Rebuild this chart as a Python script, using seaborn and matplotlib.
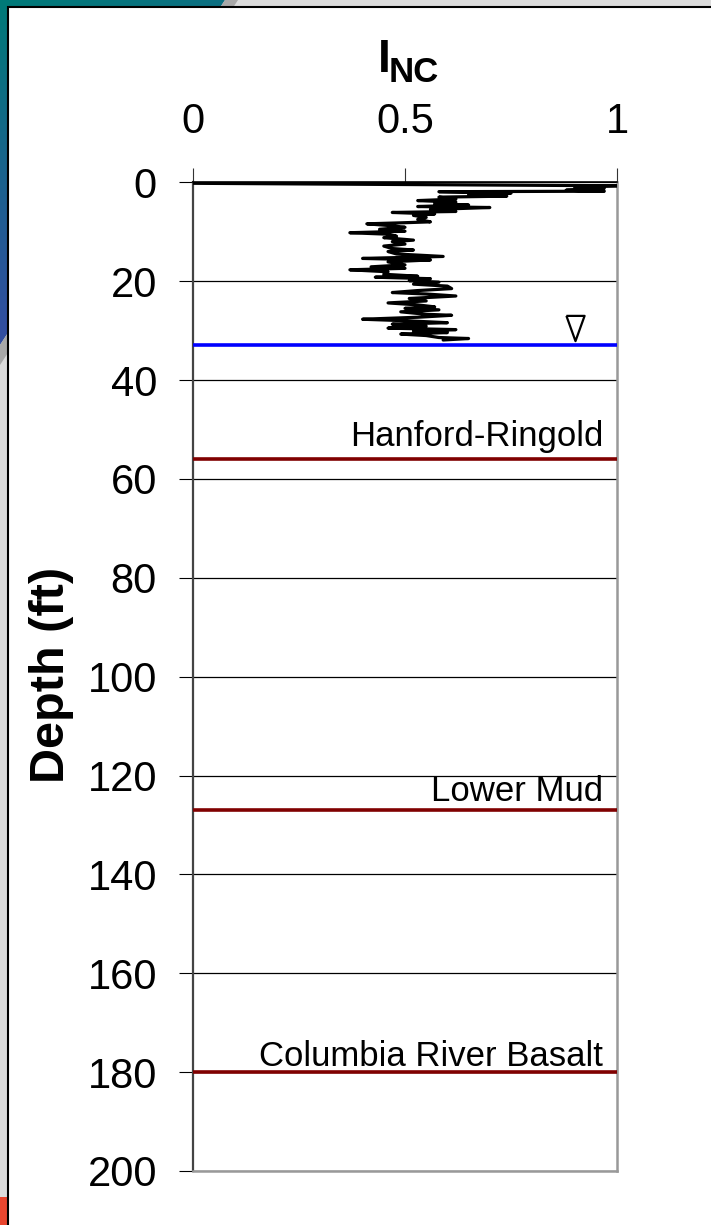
import numpy as np
import pandas as pd
import matplotlib
matplotlib.use("Agg")
import matplotlib.pyplot as plt
from matplotlib.patches import Polygon, Rectangle
import seaborn as sns

# ---- data -------------------------------------------------------------
# Normalised index I_NC logged against depth (ft)
inc_value = [0.00, 1.00, 0.90, 0.97, 0.88, 0.97, 0.58, 0.75, 0.65, 0.74,
             0.58, 0.62, 0.53, 0.62, 0.57, 0.65, 0.53, 0.70, 0.56, 0.62,
             0.47, 0.57, 0.52, 0.55, 0.53, 0.56, 0.49, 0.41, 0.47, 0.50,
             0.44, 0.50, 0.37, 0.46, 0.48, 0.45, 0.52, 0.47, 0.50, 0.45,
             0.47, 0.52, 0.46, 0.48, 0.59, 0.40, 0.56, 0.46, 0.50, 0.42,
             0.50, 0.37, 0.46, 0.45, 0.53, 0.43, 0.56, 0.51, 0.58, 0.52,
             0.60, 0.61, 0.53, 0.47, 0.55, 0.62, 0.51, 0.55, 0.46, 0.53,
             0.57, 0.50, 0.58, 0.49, 0.55, 0.61, 0.53, 0.40, 0.50, 0.60,
             0.47, 0.55, 0.46, 0.62, 0.52, 0.60, 0.49, 0.55, 0.58, 0.65,
             0.59]
inc_depth = [0.2, 0.7, 0.9, 1.2, 1.6, 1.8, 1.9, 2.2, 2.5, 2.8,
             3.0, 3.4, 3.7, 4.0, 4.3, 4.6, 4.9, 5.1, 5.5, 5.9,
             6.1, 6.4, 6.7, 7.1, 7.5, 8.0, 8.2, 8.4, 8.8, 9.1,
             9.5, 9.9, 10.2, 10.5, 10.9, 11.2, 11.7, 12.0, 12.5, 12.9,
             13.4, 13.7, 14.0, 14.5, 15.0, 15.4, 15.7, 16.1, 16.7, 17.1,
             17.4, 17.7, 18.1, 18.6, 19.0, 19.2, 19.5, 19.9, 20.2, 20.6,
             21.0, 21.5, 21.9, 22.3, 22.6, 23.0, 23.5, 24.0, 24.4, 24.8,
             25.2, 25.5, 25.8, 26.2, 26.7, 26.9, 27.3, 27.7, 28.0, 28.4,
             28.7, 29.1, 29.5, 29.8, 30.1, 30.4, 30.7, 31.0, 31.4, 31.6,
             31.9]

water_table_depth = 33
water_symbol_value = 0.90
water_symbol_depth = 29.4

contact_names = ["Hanford-Ringold", "Lower Mud", "Columbia River Basalt"]
contact_depths = [56, 127, 180]

x_ticks = [0, 0.5, 1]
x_tick_labels = ["0", "0.5", "1"]
y_ticks = list(range(0, 201, 20))

# ---- style ------------------------------------------------------------
sns.set_style("white")
plt.rcParams["font.family"] = ["Liberation Sans", "DejaVu Sans"]
plt.rcParams["text.color"] = "black"
plt.rcParams["xtick.color"] = "black"
plt.rcParams["ytick.color"] = "black"

W, H = 711, 1225
fig = plt.figure(figsize=(W / 100, H / 100), dpi=100)
fig.patch.set_facecolor("#dcdcdc")

# slide frame behind the chart
bg = fig.add_axes([0, 0, 1, 1], zorder=-10)
bg.set_xlim(0, W)
bg.set_ylim(H, 0)
bg.axis("off")
gy, gx = np.mgrid[0:360, 0:240]
t = np.clip(0.25 * gx / 235 + gy / 330, 0, 1)[..., None]
teal = np.array([0, 122, 120]) / 255
blue = np.array([50, 78, 160]) / 255
grad = teal * (1 - t) + blue * t
im = bg.imshow(grad, extent=(0, 240, 360, 0), aspect="auto", zorder=0)
corner = Polygon([(0, 0), (225, 0), (0, 345)], closed=True,
                 transform=bg.transData, facecolor="none", edgecolor="none")
bg.add_patch(corner)
im.set_clip_path(corner)
bg.add_patch(Polygon([(225, 0), (238, 0), (0, 365), (0, 345)], closed=True,
                     facecolor="#a8a8a8", edgecolor="none", zorder=1))
bg.add_patch(Rectangle((0, 1197), 8, 30, facecolor="#e8462f",
                       edgecolor="none", zorder=1))
bg.add_patch(Rectangle((7.5, 7), W, H, facecolor="white",
                       edgecolor="black", linewidth=1.5, zorder=2))

# ---- main chart -------------------------------------------------------
left, right, top, bottom = 193, 617, 182.3, 1171
ax = fig.add_axes([left / W, 1 - bottom / H, (right - left) / W,
                   (bottom - top) / H])
ax.set_facecolor("white")

df = pd.DataFrame({"inc": inc_value, "depth": inc_depth})
sns.lineplot(data=df, x="inc", y="depth", sort=False, estimator=None,
             color="black", linewidth=2.3, ax=ax, zorder=4)

ax.axhline(water_table_depth, color="#0000ff", linewidth=2.6, zorder=5)
tri_down = [(-0.72, 1), (0.72, 1), (0, -1), (-0.72, 1)]
ax.scatter([water_symbol_value], [water_symbol_depth], marker=tri_down,
           s=330, facecolor="white", edgecolor="black", linewidth=1.6,
           zorder=6)

label_lift = [2.6, 1.9, 1.2]
for name, depth, lift in zip(contact_names, contact_depths, label_lift):
    ax.axhline(depth, color="#800000", linewidth=2.6, zorder=5)
    ax.text(0.967, depth - lift, name, ha="right", va="baseline",
            fontsize=25, color="black", zorder=6)

ax.set_xlim(0, 1)
ax.set_ylim(200, 0)
ax.set_xticks(x_ticks)
ax.set_xticklabels(x_tick_labels)
ax.set_yticks(y_ticks)
ax.xaxis.tick_top()
ax.set_xlabel("")
ax.set_ylabel("")

ax.yaxis.grid(True, color="black", linewidth=0.9)
ax.xaxis.grid(False)
ax.set_axisbelow(True)

ax.tick_params(axis="x", top=True, bottom=False, labeltop=True,
               labelbottom=False, direction="out", length=10, width=0.8,
               pad=19, labelsize=30, color="#333333", labelcolor="black")
ax.tick_params(axis="y", left=True, direction="out", length=10, width=0.8,
               pad=16, labelsize=30, color="black", labelcolor="black")

ax.spines["left"].set_color("#444444")
ax.spines["left"].set_linewidth(1.6)
ax.spines["top"].set_color("black")
ax.spines["top"].set_linewidth(1.2)
ax.spines["right"].set_color("#999999")
ax.spines["right"].set_linewidth(1.8)
ax.spines["bottom"].set_color("#999999")
ax.spines["bottom"].set_linewidth(1.8)

# axis titles
fig.text(378 / W, 1 - 72 / H, "I", fontsize=33, fontweight="bold",
         ha="left", va="baseline", color="black")
fig.text(389 / W, 1 - 82 / H, "NC", fontsize=25, fontweight="bold",
         ha="left", va="baseline", color="black")
fig.text(52 / W, 1 - 675 / H, "Depth (ft)", fontsize=35, fontweight="bold",
         rotation=90, ha="center", va="center", color="black")

fig.savefig("out.png", dpi=100, facecolor=fig.get_facecolor())
